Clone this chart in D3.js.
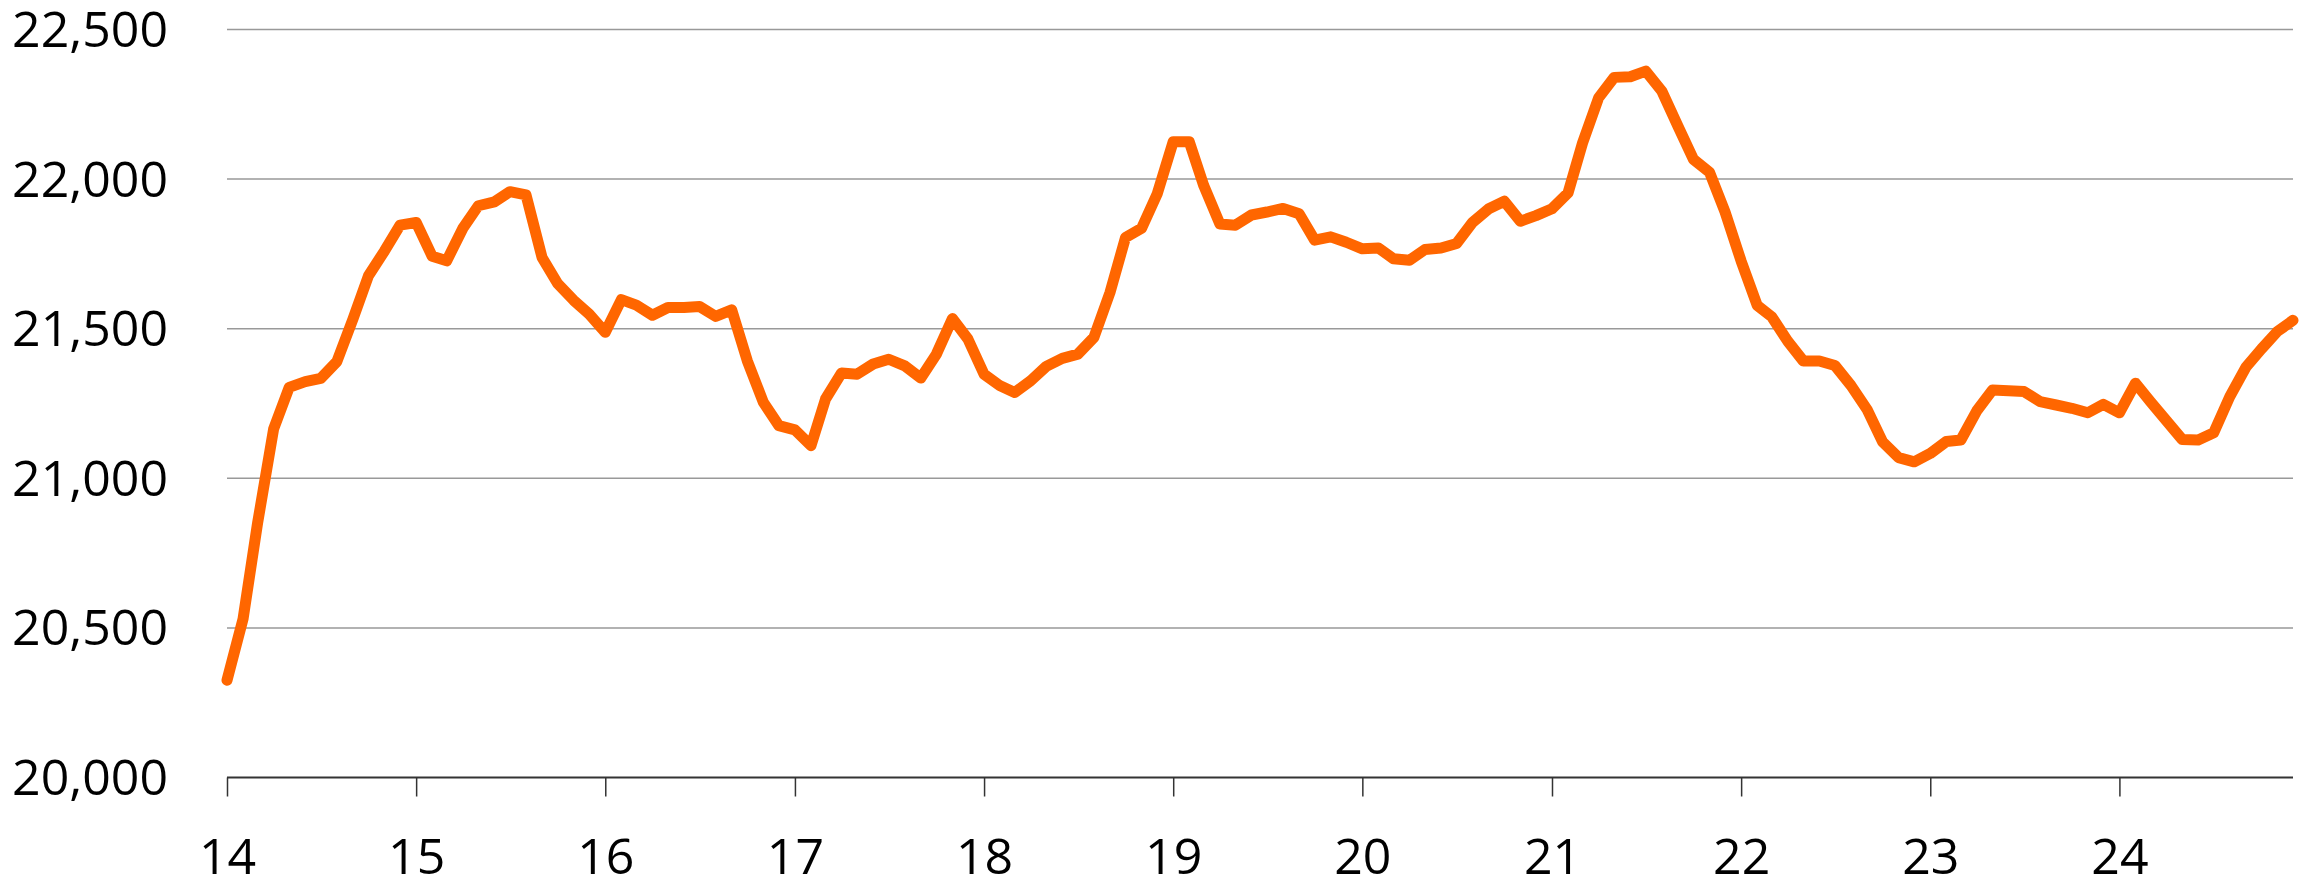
<!DOCTYPE html>
<html>
<head>
<meta charset="utf-8">
<script src="https://cdn.jsdelivr.net/npm/d3@7"></script>
<style>
  html, body { margin: 0; padding: 0; background: #fff; }
  svg { display: block; }
  text { font-family: "Open Sans", "Noto Sans", sans-serif; fill: #000; }
</style>
</head>
<body>
<svg id="chart" width="2311" height="882"></svg>
<script>
// Monthly values, Jan 2014 .. Dec 2024
const startMonth = "2014-01";
const endMonth = "2024-12";
const values = [
  20325, 20530, 20850, 21165, 21304, 21323, 21334, 21390, 21532, 21677, 21760, 21846,
  21855, 21742, 21727, 21835, 21911, 21924, 21958, 21947, 21738, 21651, 21595, 21549,
  21488, 21597, 21579, 21545, 21571, 21571, 21574, 21541, 21563, 21393, 21254, 21176,
  21162, 21109, 21265, 21352, 21348, 21382, 21398, 21376, 21335, 21415, 21534, 21465,
  21348, 21309, 21287, 21326, 21374, 21401, 21415, 21471, 21621, 21805, 21836, 21950,
  22125, 22125, 21978, 21850, 21846, 21880, 21890, 21902, 21884, 21796, 21807, 21789,
  21767, 21770, 21734, 21729, 21765, 21770, 21785, 21856, 21901, 21926, 21859, 21878,
  21901, 21954, 22121, 22272, 22340, 22342, 22361, 22294, 22177, 22066, 22023, 21890,
  21726, 21578, 21540, 21458, 21392, 21392, 21377, 21310, 21230, 21122, 21069, 21055,
  21083, 21123, 21128, 21226, 21295, 21293, 21290, 21256, 21245, 21234, 21219, 21247,
  21219, 21318, 21256, 21192, 21130, 21128, 21152, 21273, 21371, 21432, 21491, 21528
];
const yTicks = [20000, 20500, 21000, 21500, 22000, 22500];
const xTickYears = [2014, 2015, 2016, 2017, 2018, 2019, 2020, 2021, 2022, 2023, 2024];

const parseMonth = d3.utcParse("%Y-%m");
const months = d3.utcMonth.range(parseMonth(startMonth), d3.utcMonth.offset(parseMonth(endMonth), 1));
const data = months.map((d, i) => ({ date: d, value: values[i] }));

const svg = d3.select("#chart");
const mLeft = 227, mRight = 2293, mTop = 29.5, mBottom = 777.5;

const x = d3.scaleUtc()
  .domain([parseMonth(startMonth), parseMonth(endMonth)])
  .range([mLeft, mRight]);
const y = d3.scaleLinear()
  .domain([20000, 22500])
  .range([mBottom, mTop]);

const fmt = d3.format(",");

// Gridlines
svg.append("g")
  .selectAll("line")
  .data(yTicks.filter(v => v !== 20000))
  .join("line")
  .attr("x1", mLeft).attr("x2", mRight)
  .attr("y1", d => y(d)).attr("y2", d => y(d))
  .attr("stroke", "#999")
  .attr("stroke-width", 1.5);

// Y labels
svg.append("g")
  .selectAll("text")
  .data(yTicks)
  .join("text")
  .attr("x", 168)
  .attr("y", d => y(d))
  .attr("dy", "0.35em")
  .attr("text-anchor", "end")
  .attr("font-size", 50)
  .text(d => fmt(d));

// X axis
const xAxis = d3.axisBottom(x)
  .tickValues(xTickYears.map(yr => new Date(Date.UTC(yr, 0, 1))))
  .tickFormat(d3.utcFormat("%y"))
  .tickSize(19)
  .tickSizeOuter(0);

const gx = svg.append("g")
  .attr("transform", `translate(0,${mBottom})`)
  .call(xAxis);
gx.select(".domain").attr("stroke", "#333").attr("stroke-width", 2).attr("d", `M${mLeft},0H${mRight}`);
gx.selectAll(".tick line").attr("stroke", "#333").attr("stroke-width", 1.5);
gx.selectAll(".tick text")
  .attr("y", 96)
  .attr("dy", 0)
  .attr("font-size", 50)
  .attr("font-family", "'Open Sans', 'Noto Sans', sans-serif")
  .attr("fill", "#000");

// Line
const line = d3.line()
  .x(d => x(d.date))
  .y(d => y(d.value));

svg.append("path")
  .datum(data)
  .attr("d", line)
  .attr("fill", "none")
  .attr("stroke", "#ff6600")
  .attr("stroke-width", 11)
  .attr("stroke-linejoin", "round")
  .attr("stroke-linecap", "round");
</script>
</body>
</html>
